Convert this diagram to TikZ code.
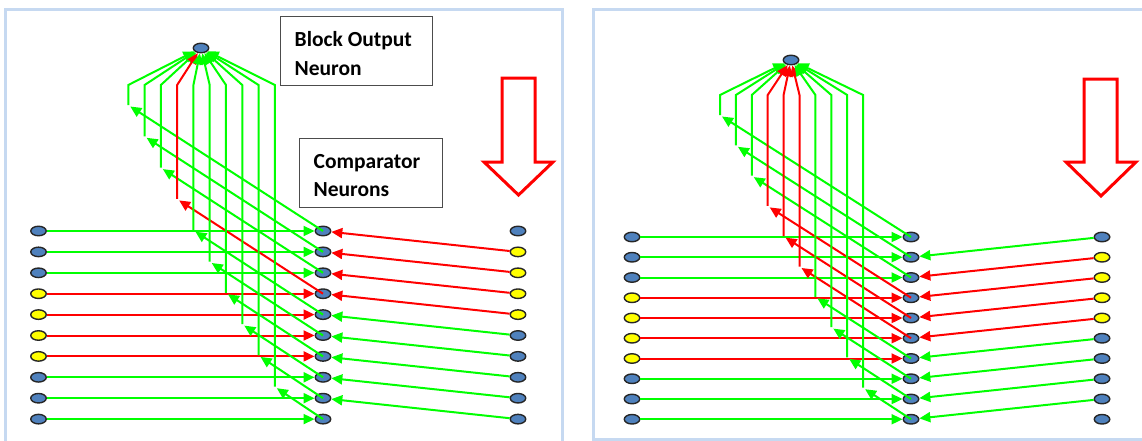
\documentclass[tikz,border=0pt]{standalone}
\usepackage{fontspec}
\setmainfont{Carlito}
\usetikzlibrary{shapes.geometric,arrows.meta}
\definecolor{nblue}{HTML}{4F81BD}
\definecolor{nyel}{HTML}{FFFF00}
\definecolor{grn}{HTML}{00FF00}
\definecolor{rd}{HTML}{FF0000}
\definecolor{frameblue}{HTML}{C6D9F1}
\tikzset{
  neuron/.style={ellipse, draw=black!85, line width=1.4pt, minimum width=15.5pt,
                 minimum height=9.5pt, inner sep=0pt},
  link/.style={line width=2pt, -{Triangle[length=11pt,width=10pt]}},
  panel/.style={draw=frameblue, line width=3pt},
  labelbox/.style={draw=black!70, line width=0.9pt, inner sep=0pt},
  lbl/.style={font=\bfseries\fontsize{21.5}{29}\selectfont, inner sep=0pt, anchor=base west},
  bigarrow/.style={draw=rd, line width=3pt, fill=white, line join=miter}
}
\begin{document}
\begin{tikzpicture}[x=1pt,y=-1pt]
\useasboundingbox (0,0) rectangle (1142,440);
\clip (0,0) rectangle (1142,440);

% panel frames
\draw[panel] (5.5,9) rectangle (562,470);
\draw[panel] (593,9) rectangle (1170,439);

% ---------------- left panel ----------------
\node[neuron, fill=nblue] (Lo) at (201,48) {};
\foreach \i/\c in {0/nblue,1/nblue,2/nblue,3/nyel,4/nyel,5/nyel,6/nyel,7/nblue,8/nblue,9/nblue}{
  \pgfmathsetmacro\y{231+20.9*\i}
  \node[neuron, fill=\c] (La\i) at (38.5,\y) {};
  \node[neuron, fill=nblue] (Lm\i) at (323,\y) {};
}
\foreach \i/\c in {0/nblue,1/nyel,2/nyel,3/nyel,4/nyel,5/nblue,6/nblue,7/nblue,8/nblue,9/nblue}{
  \pgfmathsetmacro\y{231+20.9*\i}
  \node[neuron, fill=\c] (Lr\i) at (518,\y) {};
}
% input rows
\foreach \i/\c in {0/grn,1/grn,2/grn,3/rd,4/rd,5/rd,6/rd,7/grn,8/grn,9/grn}
  \draw[link,\c] (La\i) -- (Lm\i);
\foreach \i/\c in {0/rd,1/rd,2/rd,3/rd,4/grn,5/grn,6/grn,7/grn,8/grn}{
  \pgfmathtruncatemacro\j{\i+1}
  \draw[link,\c] (Lr\j) -- (Lm\i);
}
% comparator outputs to the block output neuron
\foreach \i/\c in {0/grn,1/grn,2/grn,3/rd,4/grn,5/grn,6/grn,7/grn,8/grn,9/grn}{
  \pgfmathsetmacro\x{128.3+16.28*\i}
  \pgfmathsetmacro\b{105+31.3*\i}
  \coordinate (Lb\i) at (\x,\b);
  \coordinate (Lt\i) at (\x+2,\b+1.5);
  \coordinate (Lk\i) at (\x,85);
  \draw[link,\c] (Lm\i.center) -- (Lt\i);
  \draw[link,\c] (Lb\i) -- (Lk\i) -- (Lo);
}
% labels
\node[labelbox, minimum width=152.5pt, minimum height=69pt, anchor=north west] (Lbox1) at (279.5,16) {};
\node[lbl] (Lt1a) at (294.5,46.7) {Block Output};
\node[lbl] (Lt1b) at (294.5,75.5) {Neuron};
\node[labelbox, minimum width=143pt, minimum height=69pt, anchor=north west] (Lbox2) at (299,138) {};
\node[lbl] (Lt2a) at (313.5,168) {Comparator};
\node[lbl] (Lt2b) at (313.5,196.7) {Neurons};
% direction arrow
\draw[bigarrow] (502,78) -- (535,78) -- (535,162) -- (553,162) -- (518.5,195)
  -- (484,162) -- (502,162) -- cycle;

% ---------------- right panel ----------------
\node[neuron, fill=nblue] (Ro) at (791,60) {};
\foreach \i/\c in {0/nblue,1/nblue,2/nblue,3/nyel,4/nyel,5/nyel,6/nyel,7/nblue,8/nblue,9/nblue}{
  \pgfmathsetmacro\y{237+20.25*\i}
  \node[neuron, fill=\c] (Ra\i) at (632,\y) {};
  \node[neuron, fill=nblue] (Rm\i) at (911,\y) {};
}
\foreach \i/\c in {0/nblue,1/nyel,2/nyel,3/nyel,4/nyel,5/nblue,6/nblue,7/nblue,8/nblue,9/nblue}{
  \pgfmathsetmacro\y{237+20.25*\i}
  \node[neuron, fill=\c] (Rr\i) at (1102,\y) {};
}
\foreach \i/\c in {0/grn,1/grn,2/grn,3/rd,4/rd,5/rd,6/rd,7/grn,8/grn,9/grn}
  \draw[link,\c] (Ra\i) -- (Rm\i);
\foreach \i/\c in {0/grn,1/rd,2/rd,3/rd,4/rd,5/grn,6/grn,7/grn,8/grn}{
  \pgfmathtruncatemacro\j{\i+1}
  \draw[link,\c] (Rr\i) -- (Rm\j);
}
\foreach \i/\c in {0/grn,1/grn,2/grn,3/rd,4/rd,5/rd,6/grn,7/grn,8/grn,9/grn}{
  \pgfmathsetmacro\x{720+15.9*\i}
  \pgfmathsetmacro\b{115+30.3*\i}
  \coordinate (Rb\i) at (\x,\b);
  \coordinate (Rt\i) at (\x+2,\b+1.5);
  \coordinate (Rk\i) at (\x,95);
  \draw[link,\c] (Rm\i.center) -- (Rt\i);
  \draw[link,\c] (Rb\i) -- (Rk\i) -- (Ro);
}
\draw[bigarrow] (1084,79) -- (1117,79) -- (1117,162) -- (1136,162) -- (1101,196)
  -- (1066,162) -- (1084,162) -- cycle;
\end{tikzpicture}
\end{document}
